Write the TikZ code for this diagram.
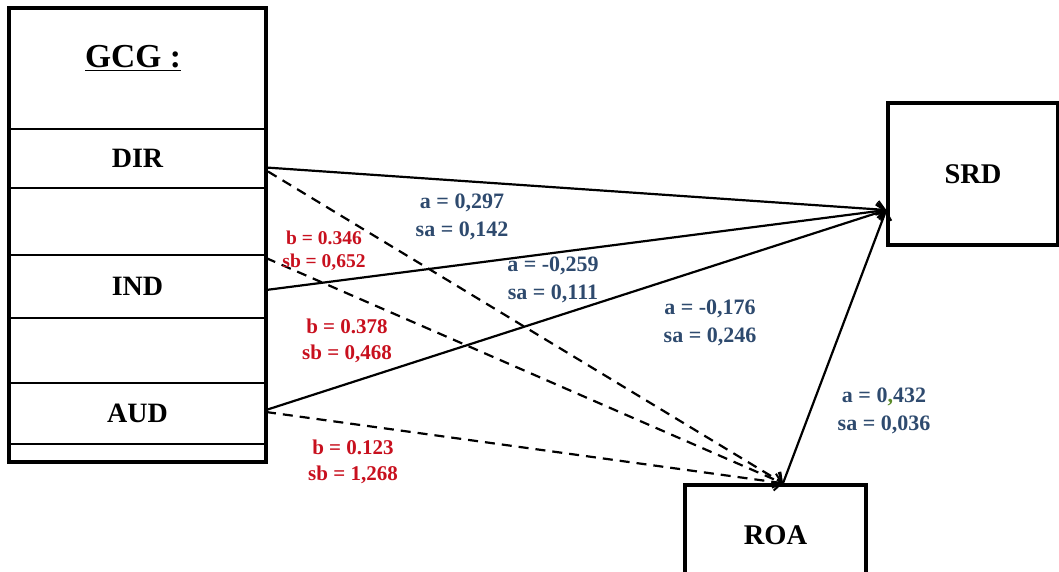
\documentclass[tikz,border=0pt]{standalone}
\usepackage{fontspec}
\setmainfont{Liberation Serif}
\usetikzlibrary{arrows.meta}
\definecolor{coefblue}{HTML}{2E4A6E}
\definecolor{coefred}{HTML}{C8101E}
\definecolor{commagreen}{HTML}{5A8A2A}
\tikzset{
  row/.style={draw, line width=2pt, minimum width=255pt, inner sep=0pt,
              font=\bfseries\fontsize{28}{30}\selectfont},
  box/.style={draw, line width=3.5pt, inner sep=0pt,
              font=\bfseries\fontsize{28.5}{30}\selectfont},
  link/.style={line width=2.2pt, -{Straight Barb[length=7pt,width=17pt,line width=2pt]}},
  dlink/.style={link, dash pattern=on 10pt off 7pt},
  acoef/.style={text=coefblue, align=center, inner sep=0pt,
                font=\bfseries\fontsize{22}{27.5}\selectfont},
  bcoef/.style={text=coefred, align=center, inner sep=0pt,
                font=\bfseries\fontsize{21}{26}\selectfont},
}
\begin{document}
\begin{tikzpicture}[x=1pt, y=-1pt]
\useasboundingbox (0,0) rectangle (1059,572);
\clip (0,0) rectangle (1059,572);

% stacked table of governance variables
\node[row, minimum height=120pt] (gcg)  at (137.5,69)    {};
\node[font=\bfseries\fontsize{33.5}{36}\selectfont, inner sep=0pt] (gcgt) at (133,58) {\underline{GCG :}};
\node[row, minimum height=59pt]  (dir)  at (137.5,158.5) {DIR};
\node[row, minimum height=67pt]  (gap1) at (137.5,221.5) {};
\node[row, minimum height=63pt]  (ind)  at (137.5,286.5) {IND};
\node[row, minimum height=65pt]  (gap2) at (137.5,350.5) {};
\node[row, minimum height=61pt]  (aud)  at (137.5,413.5) {AUD};
\node[row, minimum height=17pt]  (tail) at (137.5,452.5) {};
\draw[line width=3.5pt] (gcg.north west) rectangle (tail.south east);

% outcome boxes
\node[box, minimum width=170pt, minimum height=142pt] (srd) at (973,174) {SRD};
\node[box, minimum width=181pt, minimum height=100pt] (roa) at (775.5,535) {ROA};

% anchor points of the connectors
\coordinate (dirS) at ([yshift=-9pt]dir.east);
\coordinate (dirD) at ([xshift=2pt,yshift=-13pt]dir.east);
\coordinate (indS) at ([yshift=-3.5pt]ind.east);
\coordinate (indD) at ([yshift=28.5pt]ind.east);
\coordinate (audS) at ([yshift=3.5pt]aud.east);
\coordinate (audD) at ([yshift=1.5pt]aud.east);
\coordinate (srdIn) at ([yshift=-36pt]srd.west);
\coordinate (roaIn) at ([xshift=7.5pt]roa.north);

% direct paths to SRD
\draw[link] (dirS) -- (srdIn);
\draw[link] (indS) -- (srdIn);
\draw[link] (audS) -- (srdIn);
\draw[link] (roaIn) -- (srdIn);

% paths to ROA
\draw[dlink] (dirD) -- (roaIn);
\draw[dlink] (indD) -- (roaIn);
\draw[dlink] (audD) -- (roaIn);

% coefficients
\node[acoef] (a1) at (462,217) {a = 0,297\\sa = 0,142};
\node[acoef] (a2) at (553,280) {a = -0,259\\sa = 0,111};
\node[acoef] (a3) at (710,323) {a = -0,176\\sa = 0,246};
\node[acoef] (a4) at (884,411) {a = 0{\color{commagreen},}432\\sa = 0,036};
\node[bcoef, font=\bfseries\fontsize{19.5}{23}\selectfont] (b1) at (324,251) {b = 0.346\\sb = 0,652};
\node[bcoef] (b2) at (347,341) {b = 0.378\\sb = 0,468};
\node[bcoef] (b3) at (353,462) {b = 0.123\\sb = 1,268};
\end{tikzpicture}
\end{document}
